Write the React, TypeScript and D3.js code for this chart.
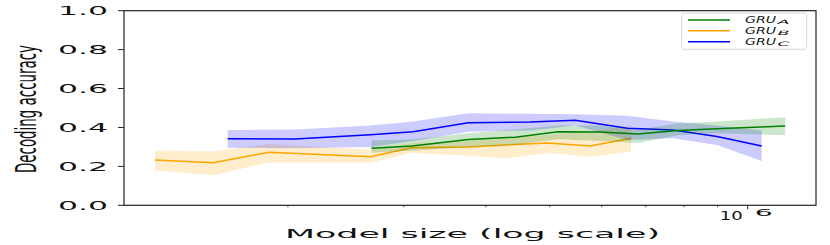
import React from "react";
import * as d3 from "d3";

const yTicks = [0, 0.2, 0.4, 0.6, 0.8, 1.0];
const minorTicks = [2e5, 3e5, 4e5, 5e5, 6e5, 7e5, 8e5, 9e5];
const majorTicks = [1e6];

const xB = [1.256e5, 1.54e5, 1.87e5, 2.67e5, 3.08e5, 3.76e5, 4.3e5, 4.96e5, 5.76e5, 6.65e5];
const meanB = [0.233, 0.219, 0.272, 0.25, 0.296, 0.3, 0.31, 0.32, 0.305, 0.344];
const lowB = [0.18, 0.154, 0.22, 0.22, 0.27, 0.255, 0.24, 0.27, 0.25, 0.275];
const highB = [0.28, 0.276, 0.315, 0.285, 0.32, 0.33, 0.35, 0.36, 0.38, 0.41];

const xA = [2.68e5, 3.09e5, 3.76e5, 4.43e5, 5.15e5, 5.97e5, 6.81e5, 7.83e5, 8.98e5, 1.14e6];
const meanA = [0.293, 0.305, 0.338, 0.35, 0.378, 0.377, 0.366, 0.384, 0.393, 0.407];
const lowA = [0.27, 0.28, 0.3, 0.31, 0.34, 0.33, 0.32, 0.36, 0.37, 0.36];
const highA = [0.333, 0.34, 0.37, 0.39, 0.41, 0.41, 0.39, 0.42, 0.43, 0.452];

const xC = [1.62e5, 2.05e5, 2.67e5, 3.1e5, 3.76e5, 4.67e5, 5.47e5, 6.56e5, 7.7e5, 8.98e5, 1.05e6];
const meanC = [0.342, 0.341, 0.362, 0.378, 0.424, 0.428, 0.437, 0.396, 0.387, 0.353, 0.305];
const lowC = [0.296, 0.293, 0.3, 0.33, 0.378, 0.385, 0.41, 0.336, 0.345, 0.31, 0.228];
const highC = [0.387, 0.39, 0.41, 0.43, 0.473, 0.47, 0.468, 0.46, 0.43, 0.41, 0.384];

const series = [
  { name: "GRU", sub: "A", color: "green", x: xA, mean: meanA, low: lowA, high: highA },
  { name: "GRU", sub: "B", color: "orange", x: xB, mean: meanB, low: lowB, high: highB },
  { name: "GRU", sub: "C", color: "blue", x: xC, mean: meanC, low: lowC, high: highC },
];

const L = 124, R = 816, T = 10.7, B = 205.3;

export default function App() {
  const x = d3.scaleLog().domain([1.127e5, 1.27e6]).range([L, R]);
  const y = d3.scaleLinear().domain([0, 1]).range([B, T]);
  const font = "DejaVu Sans, sans-serif";

  const drawOrder = [series[1], series[2], series[0]];

  return (
    <svg width={830} height={245} style={{ position: "absolute", left: 0, top: 0 }}>
      <rect x={0} y={0} width={830} height={245} fill="white" />
      {drawOrder.map((s) => {
        const idx = s.x.map((_, i) => i);
        const area = d3
          .area<number>()
          .x((i) => x(s.x[i]))
          .y0((i) => y(s.low[i]))
          .y1((i) => y(s.high[i]));
        const line = d3
          .line<number>()
          .x((i) => x(s.x[i]))
          .y((i) => y(s.mean[i]));
        return (
          <g key={s.sub}>
            <path d={area(idx) || ""} fill={s.color} fillOpacity={0.2} stroke="none" />
            <path d={line(idx) || ""} fill="none" stroke={s.color} strokeWidth={1.5} />
          </g>
        );
      })}
      <rect x={L} y={T} width={R - L} height={B - T} fill="none" stroke="#222" strokeWidth={1.2} />
      {yTicks.map((t) => (
        <g key={t}>
          <line x1={L - 6} x2={L} y1={y(t)} y2={y(t)} stroke="#222" strokeWidth={1} />
          <text
            x={108}
            y={y(t) + 4.5}
            fontFamily={font}
            fontSize={12.5}
            textAnchor="end"
            textLength={50}
            lengthAdjust="spacingAndGlyphs"
            fill="#111"
          >
            {t.toFixed(1)}
          </text>
        </g>
      ))}
      {minorTicks.map((t) => (
        <line key={t} x1={x(t)} x2={x(t)} y1={B} y2={B + 2} stroke="#222" strokeWidth={0.8} />
      ))}
      {majorTicks.map((t) => (
        <g key={t}>
          <line x1={x(t)} x2={x(t)} y1={B} y2={B + 4} stroke="#222" strokeWidth={1} />
          <text
            x={x(t) - 28}
            y={220}
            fontFamily={font}
            fontSize={12.4}
            textLength={23}
            lengthAdjust="spacingAndGlyphs"
            fill="#111"
          >
            10
          </text>
          <text
            x={x(t) + 7}
            y={215.5}
            fontFamily={font}
            fontSize={8}
            textLength={18}
            lengthAdjust="spacingAndGlyphs"
            fill="#111"
          >
            6
          </text>
        </g>
      ))}
      <text
        x={(L + R) / 2 + 2.5}
        y={237.5}
        fontFamily={font}
        fontSize={12.4}
        textAnchor="middle"
        textLength={375}
        lengthAdjust="spacingAndGlyphs"
        fill="#111"
      >
        Model size (log scale)
      </text>
      <text
        transform={`translate(36,109) rotate(-90) scale(1,2.09)`}
        fontFamily={font}
        fontSize={13.4}
        textAnchor="middle"
        fill="#111"
      >
        Decoding accuracy
      </text>
      <rect x={681.7} y={13.3} width={125} height={36} rx={2} fill="white" fillOpacity={0.8} stroke="#d8d8d8" strokeWidth={1} />
      {series.map((s, i) => {
        const ly = 20 + i * 10.85;
        return (
          <g key={s.sub}>
            <line x1={688} x2={730} y1={ly} y2={ly} stroke={s.color} strokeWidth={1.5} />
            <text
              x={745}
              y={ly + 3}
              fontFamily={font}
              fontSize={8.5}
              fontStyle="italic"
              textLength={31}
              lengthAdjust="spacingAndGlyphs"
              fill="#111"
            >
              {s.name}
            </text>
            <text
              x={777.5}
              y={ly + 4}
              fontFamily={font}
              fontSize={6}
              fontStyle="italic"
              textLength={12}
              lengthAdjust="spacingAndGlyphs"
              fill="#111"
            >
              {s.sub}
            </text>
          </g>
        );
      })}
    </svg>
  );
}
